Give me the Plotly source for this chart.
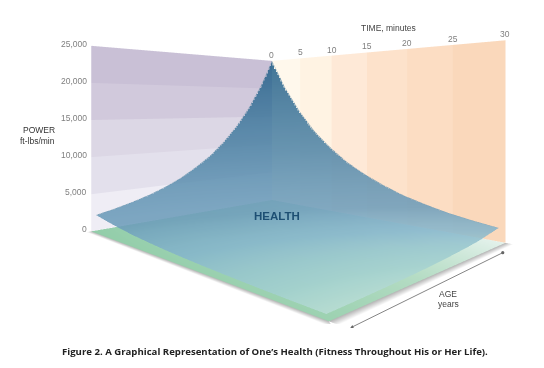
import plotly.graph_objects as go
import numpy as np

time_ticks = [0, 5, 10, 15, 20, 25, 30]
power_ticks = [0, 5000, 10000, 15000, 20000, 25000]
age_range = [0, 100]
surface_time = [0, 2.45, 4.9, 7.35, 9.8, 12.25, 14.7, 17.15, 19.6, 22.05, 24.5, 26.95, 29.4]
surface_age = [0, 8.17, 16.33, 24.5, 32.67, 40.83, 49, 57.17, 65.33, 73.5, 81.67, 89.83, 98]
health_power = [
    [25000,20000,16000,12700,10200,8100,6500,5200,4100,3300,2600,2100,1700],
    [20400,16300,13000,10400,8300,6600,5300,4200,3400,2700,2100,1700,1400],
    [16600,13200,10600,8400,6700,5400,4300,3400,2700,2200,1700,1400,1100],
    [13500,10800,8600,6900,5500,4400,3500,2800,2200,1800,1400,1100,900],
    [11000,8800,7000,5600,4500,3600,2800,2300,1800,1400,1200,900,750],
    [8900,7100,5700,4500,3600,2900,2300,1800,1500,1200,900,750,600],
    [7300,5800,4600,3700,3000,2400,1900,1500,1200,950,760,610,490],
    [5900,4700,3800,3000,2400,1900,1500,1200,980,780,620,500,400],
    [4800,3900,3100,2500,2000,1600,1250,1000,800,640,510,410,320],
    [3900,3100,2500,2000,1600,1300,1000,810,650,520,410,330,270],
    [3200,2600,2000,1600,1300,1000,830,660,530,420,340,270,220],
    [2600,2100,1700,1300,1060,850,670,540,430,340,270,220,180],
    [2100,1700,1360,1080,870,690,550,440,350,280,220,180,150],
]
power_band_colors = ["#efedf5", "#e3e0ec", "#dcd7e5", "#d1c9dc", "#c9c0d6"]
time_band_colors = ["#fff8ec", "#fff3e3", "#fee9d7", "#fde2cb", "#fcddc3", "#fad8bb"]

TOP_OFFSET = 112
PAGE_H = 480
FLAT = dict(ambient=1, diffuse=0, specular=0, fresnel=0, roughness=1)
fig = go.Figure()

def solid(x, y, z, color):
    fig.add_trace(go.Surface(x=x, y=y, z=z, surfacecolor=np.zeros_like(z, dtype=float),
                             colorscale=[[0, color], [1, color]], showscale=False,
                             lighting=FLAT, hoverinfo="skip", cmin=0, cmax=1))

for i, c in enumerate(power_band_colors):
    lo, hi = power_ticks[i], power_ticks[i + 1]
    solid(np.array([[age_range[0], age_range[1]]] * 2), np.zeros((2, 2)), np.array([[lo, lo], [hi, hi]]), c)

for i, c in enumerate(time_band_colors):
    lo, hi = time_ticks[i], time_ticks[i + 1]
    solid(np.zeros((2, 2)), np.array([[lo, hi]] * 2), np.array([[0, 0], [25000, 25000]]), c)

# floor
floor_x = np.array([[0, 0], [100, 100]], dtype=float)
floor_y = np.array([[0, 30], [0, 30]], dtype=float)
floor_shade = np.array([[0.6, 1.0], [0.0, 0.15]])
fig.add_trace(go.Surface(x=floor_x, y=floor_y, z=np.zeros((2, 2)), surfacecolor=floor_shade,
                         colorscale=[[0, "#92cda9"], [0.5, "#b5dcc4"], [1, "#e4f2ec"]],
                         showscale=False, lighting=FLAT, hoverinfo="skip", cmin=0, cmax=1))

# soft shadow strips beyond the two front floor edges
shadow = [[0, "#b4b4b4"], [1, "#ffffff"]]
fig.add_trace(go.Surface(x=np.array([[0, 0], [100, 100]], dtype=float), y=np.array([[30, 30.7], [30, 30.7]]),
                         z=np.zeros((2, 2)), surfacecolor=np.array([[0, 1], [0, 1]], dtype=float), colorscale=shadow,
                         showscale=False, lighting=FLAT, hoverinfo="skip", cmin=0, cmax=1))
fig.add_trace(go.Surface(x=np.array([[100, 100], [102, 102]], dtype=float), y=np.array([[0, 30], [0, 30.7]]),
                         z=np.zeros((2, 2)), surfacecolor=np.array([[0, 0], [1, 1]], dtype=float), colorscale=shadow,
                         showscale=False, lighting=FLAT, hoverinfo="skip", cmin=0, cmax=1))

# health surface
z = np.array(health_power, dtype=float)
ta, at = np.meshgrid(np.array(surface_time) / 30, np.array(surface_age) / 100)
shade = z + 2000 * at * (1 - ta)
fig.add_trace(go.Surface(x=surface_age, y=surface_time, z=z.T, surfacecolor=shade.T,
                         colorscale=[[0, "#c2e2d8"], [0.02, "#a3d0d0"], [0.06, "#86b6cc"], [0.12, "#6c9cba"],
                                     [0.4, "#4f84a6"], [1, "#235f88"]],
                         cmin=0, cmax=25000, showscale=False, opacity=0.86, lighting=FLAT, hoverinfo="skip"))
# soften the two back edges of the surface
fig.add_trace(go.Scatter3d(x=[surface_age[0]] * 13, y=surface_time, z=health_power[0], mode="lines",
                           line=dict(color="#7f9fb2", width=1.5), hoverinfo="skip"))
fig.add_trace(go.Scatter3d(x=surface_age, y=[surface_time[0]] * 13, z=[r[0] for r in health_power], mode="lines",
                           line=dict(color="#7f9fb2", width=1.5), hoverinfo="skip"))

GRAY = "#7f7f7f"
FONT = "Liberation Sans"
ann3d = []
for p in power_ticks:
    ann3d.append(dict(x=100, y=0, z=p, text=f"{p:,}", showarrow=False, xanchor="right", xshift=-2, yshift=2,
                      font=dict(family=FONT, size=8.5, color=GRAY)))
for t in time_ticks:
    ann3d.append(dict(x=0, y=t, z=25000, text=str(t), showarrow=False, yanchor="bottom", yshift=-1,
                      xshift=0, font=dict(family=FONT, size=8.5, color=GRAY)))
ann3d.append(dict(x=99.4, y=31.4, z=0, text="", showarrow=True, ax=154, ay=-76, arrowhead=2, arrowsize=0.8,
                  arrowwidth=0.8, arrowcolor="#666", startarrowhead=6, arrowside="end+start", startarrowsize=1))

def py(y_px):
    return 1 - (y_px + TOP_OFFSET) / PAGE_H

paper = [
    dict(x=388, y=28, text="TIME, minutes", size=8.5, color="#444"),
    dict(x=277, y=216, text="<b>HEALTH</b>", size=11.5, color="#1d4f73"),
    dict(x=448, y=294, text="AGE", size=8.5, color="#444"),
    dict(x=448, y=304, text="years", size=8.5, color="#444"),
    dict(x=39, y=130, text="POWER", size=8.5, color="#333"),
    dict(x=37, y=141, text="ft-lbs/min", size=8.5, color="#333"),
]
annotations = [dict(x=a["x"] / 544, y=py(a["y"]), xref="paper", yref="paper", text=a["text"], showarrow=False,
                    xanchor="center", yanchor="middle",
                    font=dict(family=FONT, size=a["size"], color=a["color"])) for a in paper]
annotations.append(dict(x=274.5 / 544, y=py(351), xref="paper", yref="paper", showarrow=False,
                        xanchor="center", yanchor="middle",
                        text="<b>Figure 2. A Graphical Representation of One’s Health (Fitness Throughout His or Her Life).</b>",
                        font=dict(family="Open Sans", size=9.6, color="#222")))

hidden = dict(visible=False, showgrid=False, zeroline=False, showbackground=False, showspikes=False)
fig.update_layout(
    width=544, height=PAGE_H, margin=dict(l=0, r=0, t=0, b=0), paper_bgcolor="white", showlegend=False,
    annotations=annotations,
    scene=dict(
        domain=dict(x=[0, 1], y=[0.0917, 1]),
        xaxis=dict(hidden, range=[0, 104]),
        yaxis=dict(hidden, range=[0, 32]),
        zaxis=dict(hidden, range=[0, 26000]),
        aspectmode="manual", aspectratio=dict(x=0.7467, y=0.9323, z=0.5496),
        camera=dict(eye=dict(x=1.0206, y=0.9679, z=0.0822), center=dict(x=0.0448, y=-0.0359, z=0.0822),
                    up=dict(x=0, y=0, z=1), projection=dict(type="perspective")),
        annotations=ann3d, bgcolor="white"),
)
fig.write_html("out.html", post_script=f"document.body.style.margin='-{TOP_OFFSET}px 0 0 0';"
               "document.documentElement.style.overflow='hidden';document.body.style.overflow='hidden';")
